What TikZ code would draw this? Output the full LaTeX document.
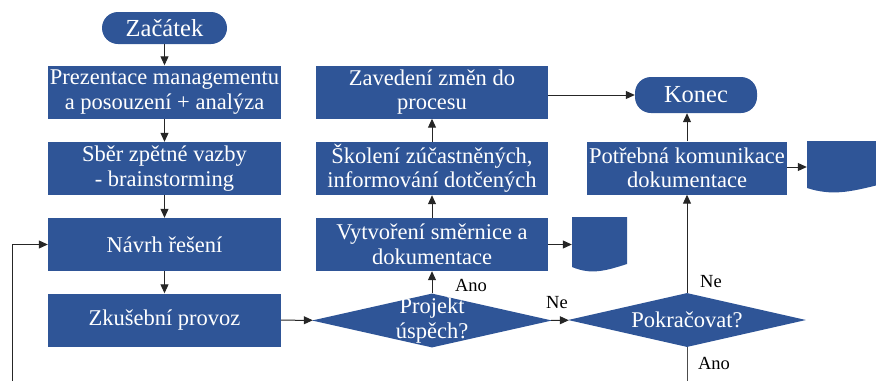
\documentclass[tikz,border=0pt]{standalone}
\usepackage{fontspec}
\setmainfont{Liberation Serif}
\newfontfamily\flowfont{Liberation Serif}
\usetikzlibrary{shapes.geometric,arrows.meta}
\definecolor{flowblue}{RGB}{47,85,151}

\tikzset{
  boxtext/.style={text=white, align=center, font=\flowfont\fontsize{22.5}{24.5}\selectfont},
  proc/.style={boxtext, fill=flowblue, inner sep=0pt,
    minimum width=#1, minimum height=53pt},
  proc/.default=233pt,
  term/.style={boxtext, fill=flowblue, rounded corners=16pt, inner sep=0pt,
    font=\flowfont\fontsize{24.5}{26}\selectfont},
  decision/.style={diamond, fill=flowblue, inner sep=0pt,
    minimum width=240pt, minimum height=54pt},
  docshape/.style={inner sep=0pt, minimum width=#1, minimum height=52pt,
    path picture={
      \fill[flowblue] (path picture bounding box.north west)
        -- (path picture bounding box.north east)
        -- ([yshift=8pt]path picture bounding box.south east)
        .. controls ([xshift=-0.4*#1,yshift=1pt]path picture bounding box.south east)
        and ([xshift=0.35*#1,yshift=-3pt]path picture bounding box.south west)
        .. ([yshift=5pt]path picture bounding box.south west) -- cycle;}},
  lbl/.style={font=\flowfont\fontsize{18.5}{20}\selectfont, inner sep=0pt},
  flow/.style={line width=1pt, draw=black!85, -{Triangle[length=9pt,width=8pt]}},
  plain/.style={line width=1pt, draw=black!70}
}

\begin{document}
\begin{tikzpicture}[x=1pt,y=-1pt]
\useasboundingbox (0,0) rectangle (876,381);

% left column
\node[term, minimum width=125pt, minimum height=32pt] (start) at (164.5,28) {Začátek};
\node[proc] (prez) at (164.5,92) {Prezentace managementu\\a posouzení + analýza};
\node[proc] (sber) at (164.5,168.5) {Sběr zpětné vazby\\- brainstorming};
\node[proc] (navrh) at (164.5,244.5) {Návrh řešení};
\node[proc] (zkus) at (164.5,320) {Zkušební provoz};

% middle column
\node[proc=232pt] (zav) at (432,92) {Zavedení změn do\\procesu};
\node[proc=232pt] (skol) at (432,168.5) {Školení zúčastněných,\\informování dotčených};
\node[proc=232pt] (vytv) at (432,244.5) {Vytvoření směrnice a\\dokumentace};
\node[docshape=55pt, minimum height=55pt] (doc2) at (599.5,244.5) {};

\node[decision] (d1) at (432,320.5) {};
\node[boxtext] at (d1) {Projekt\\úspěch?};

% right column
\node[term, minimum width=122pt, minimum height=36pt] (konec) at (696,95) {Konec};
\node[proc=200pt] (potr) at (687,168) {Potřebná komunikace\\dokumentace};
\node[docshape=71pt] (doc1) at (842.5,167) {};

\node[decision, minimum width=238pt] (d2) at (687,320) {};
\node[boxtext] at (d2) {Pokračovat?};

% free ends of the return lines
\coordinate (loopend) at (12,381);
\coordinate (anoend) at (687,381);

% connectors
\draw[flow] (start) -- (prez);
\draw[flow] (prez) -- (sber);
\draw[flow] (sber) -- (navrh);
\draw[flow] (navrh) -- (zkus);
\draw[flow] (zkus) -- (d1);
\draw[flow] (d1) -- (vytv);
\draw[flow] (vytv) -- (skol);
\draw[flow] (skol) -- (zav);
\draw[flow] (vytv) -- (doc2);
\draw[flow] (zav.east |- konec.west) -- (konec.west);
\draw[flow] (d1) -- (d2);
\draw[flow] (d2) -- (potr);
\draw[flow] (potr) -- (potr.north |- konec.south);
\draw[flow] (potr.east |- doc1.west) -- (doc1.west);
\draw[plain] (d2.south) -- (anoend);
\draw[flow] (loopend) |- (navrh.west);

% branch labels
\node[lbl] at (471,285) {Ano};
\node[lbl] at (557,303) {Ne};
\node[lbl] at (711,282) {Ne};
\node[lbl] at (714,363) {Ano};
\end{tikzpicture}
\end{document}
